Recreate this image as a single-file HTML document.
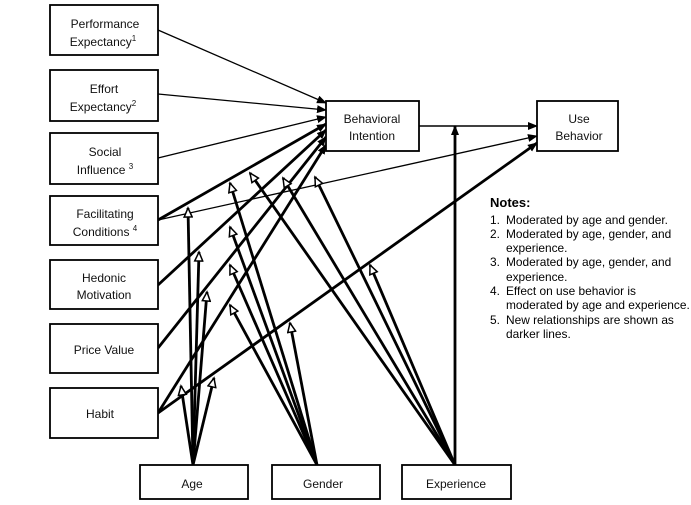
<!DOCTYPE html>
<html><head><meta charset="utf-8"><style>
body{margin:0;background:#fff;}
svg{display:block;font-family:"Liberation Sans",Arial,sans-serif;}
</style></head><body>
<svg width="691" height="505" viewBox="0 0 691 505" xmlns="http://www.w3.org/2000/svg">
<defs>
<marker id="f" markerWidth="10" markerHeight="8" refX="9" refY="4" orient="auto" markerUnits="userSpaceOnUse"><path d="M0,0 L10,4 L0,8 z" fill="#000"/></marker>
<marker id="o" markerWidth="12" markerHeight="10" refX="10" refY="5" orient="auto" markerUnits="userSpaceOnUse"><path d="M1,1 L10,5 L1,9 z" fill="#fff" stroke="#000" stroke-width="1.5"/></marker>
</defs>
<g fill="none" stroke="#000">
<line x1="158" y1="30" x2="326" y2="103" stroke-width="1.3" marker-end="url(#f)"/>
<line x1="158" y1="94" x2="326" y2="110" stroke-width="1.3" marker-end="url(#f)"/>
<line x1="158" y1="158" x2="326" y2="117" stroke-width="1.3" marker-end="url(#f)"/>
<line x1="158" y1="220" x2="537" y2="136" stroke-width="1.3" marker-end="url(#f)"/>
<line x1="419" y1="126" x2="537" y2="126" stroke-width="1.5" marker-end="url(#f)"/>
<g stroke-width="2.8">
<line x1="158" y1="220" x2="326" y2="124" marker-end="url(#f)"/>
<line x1="158" y1="285" x2="326" y2="130" marker-end="url(#f)"/>
<line x1="158" y1="348" x2="326" y2="137" marker-end="url(#f)"/>
<line x1="158" y1="413" x2="326" y2="145" marker-end="url(#f)"/>
<line x1="158" y1="413" x2="537" y2="143" marker-end="url(#f)"/>
<line x1="455" y1="465" x2="455" y2="126" marker-end="url(#f)"/>
<line x1="193" y1="465" x2="188" y2="208" marker-end="url(#o)"/>
<line x1="193" y1="465" x2="199" y2="252" marker-end="url(#o)"/>
<line x1="193" y1="465" x2="207" y2="292" marker-end="url(#o)"/>
<line x1="193" y1="465" x2="181" y2="386" marker-end="url(#o)"/>
<line x1="193" y1="465" x2="214" y2="378" marker-end="url(#o)"/>
<line x1="317" y1="465" x2="230" y2="183" marker-end="url(#o)"/>
<line x1="317" y1="465" x2="230" y2="227" marker-end="url(#o)"/>
<line x1="317" y1="465" x2="230" y2="265" marker-end="url(#o)"/>
<line x1="317" y1="465" x2="230" y2="305" marker-end="url(#o)"/>
<line x1="317" y1="465" x2="290" y2="323" marker-end="url(#o)"/>
<line x1="455" y1="465" x2="250" y2="173" marker-end="url(#o)"/>
<line x1="455" y1="465" x2="283" y2="178" marker-end="url(#o)"/>
<line x1="455" y1="465" x2="315" y2="177" marker-end="url(#o)"/>
<line x1="455" y1="465" x2="370" y2="265" marker-end="url(#o)"/>
</g>
</g>
<g fill="#fff" stroke="#000" stroke-width="1.8">
<rect x="50" y="5" width="108" height="50"/>
<rect x="50" y="70" width="108" height="51"/>
<rect x="50" y="133" width="108" height="51"/>
<rect x="50" y="196" width="108" height="49"/>
<rect x="50" y="260" width="108" height="49"/>
<rect x="50" y="324" width="108" height="49"/>
<rect x="50" y="388" width="108" height="50"/>
<rect x="140" y="465" width="108" height="34"/>
<rect x="272" y="465" width="108" height="34"/>
<rect x="402" y="465" width="109" height="34"/>
<rect x="326" y="101" width="93" height="50"/>
<rect x="537" y="101" width="81" height="50"/>
</g>
<g font-size="12" fill="#111" text-anchor="middle">
<text x="105" y="28">Performance</text>
<text x="103" y="46">Expectancy<tspan font-size="8" dy="-5">1</tspan></text>
<text x="104" y="93">Effort</text>
<text x="103" y="111">Expectancy<tspan font-size="8" dy="-5">2</tspan></text>
<text x="105" y="156">Social</text>
<text x="105" y="174">Influence <tspan font-size="8" dy="-5">3</tspan></text>
<text x="105" y="218">Facilitating</text>
<text x="105" y="236">Conditions <tspan font-size="8" dy="-5">4</tspan></text>
<text x="104" y="282">Hedonic</text>
<text x="104" y="299">Motivation</text>
<text x="104" y="354">Price Value</text>
<text x="100" y="418">Habit</text>
<text x="192" y="488">Age</text>
<text x="323" y="488">Gender</text>
<text x="456" y="488">Experience</text>
<text x="372" y="123">Behavioral</text>
<text x="372" y="140">Intention</text>
<text x="579" y="123">Use</text>
<text x="579" y="140">Behavior</text>
</g>
<g font-size="11.9" fill="#000">
<text x="490" y="207" font-size="13" font-weight="bold">Notes:</text>
<text x="490" y="224">1.</text><text x="506" y="224">Moderated by age and gender.</text>
<text x="490" y="238">2.</text><text x="506" y="238">Moderated by age, gender, and</text>
<text x="506" y="252">experience.</text>
<text x="490" y="266">3.</text><text x="506" y="266">Moderated by age, gender, and</text>
<text x="506" y="281">experience.</text>
<text x="490" y="295">4.</text><text x="506" y="295">Effect on use behavior is</text>
<text x="506" y="309">moderated by age and experience.</text>
<text x="490" y="324">5.</text><text x="506" y="324">New relationships are shown as</text>
<text x="506" y="338">darker lines.</text>
</g>
</svg>
</body></html>
